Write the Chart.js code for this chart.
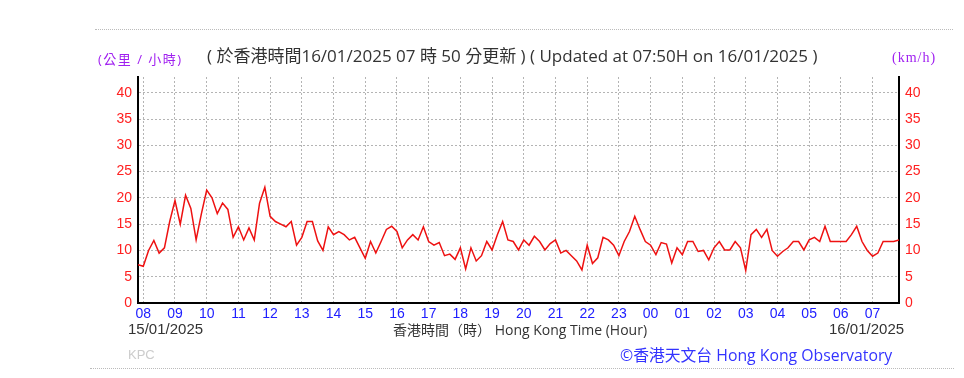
<!DOCTYPE html>
<html lang="zh-Hant">
<head>
  <meta charset="UTF-8" />
  <title>風速</title>
  <script src="https://cdn.jsdelivr.net/npm/chart.js"></script>
  <style>
    * { margin: 0; padding: 0; box-sizing: border-box; }
    body { background: #fff; width: 964px; height: 378px; position: relative; overflow: hidden; }
    canvas { position: absolute; left: 0; top: 0; }
    .txt { position: absolute; white-space: nowrap; }
    .cjk { font-family: 'Open Sans', 'Noto Sans CJK TC', sans-serif; }
    .sep { position: absolute; height: 0; border-top: 1px dotted #bbb; }
  </style>
</head>
<body>
  <canvas id="windChart" width="964" height="378"></canvas>

  <div class="sep" style="left:95px; top:29px; width:858px;"></div>
  <div class="sep" style="left:90px; top:368px; width:864px;"></div>

  <div class="txt cjk" style="left:98px; top:49px; font-size:13px; letter-spacing:1.5px; color:#a020f0;">(公里 / 小時)</div>
  <div class="txt cjk" style="left:207px; top:42px; font-size:17px; color:#333;">( 於香港時間16/01/2025 07 時 50 分更新 ) ( Updated at 07:50H on 16/01/2025 )</div>
  <div class="txt" style="left:892px; top:50px; font-size:14px; letter-spacing:1px; color:#a020f0; font-family:'Liberation Serif', serif;">(km/h)</div>

  <div class="txt" style="left:128px; top:320px; font-size:15px; color:#333; font-family:'Liberation Sans', sans-serif;">15/01/2025</div>
  <div class="txt cjk" style="left:393px; top:319px; font-size:14px; color:#333;">香港時間（時） Hong Kong Time (Hour)</div>
  <div class="txt" style="left:829px; top:320px; font-size:15px; color:#333; font-family:'Liberation Sans', sans-serif;">16/01/2025</div>
  <div class="txt" style="left:128px; top:347px; font-size:13px; color:#ccc; font-family:'Liberation Sans', sans-serif;">KPC</div>
  <div class="txt cjk" style="left:620px; top:343px; font-size:15.8px; color:#3333ff;">©香港天文台 Hong Kong Observatory</div>

  <script>
    // 10 分鐘平均風速 (km/h)，由 15/01 07:50 至 16/01 07:50，每 10 分鐘一點
    const startHour = 7 + 50 / 60;
    const stepHours = 10 / 60;
    const speeds = [
      7.3, 7, 10, 11.9, 9.5, 10.5, 15.5,          // 07:50 - 08:50
      19.5, 15, 20.5, 18, 12, 17,                 // 09
      21.5, 20, 17, 19, 17.8, 12.5,               // 10
      14.5, 12, 14.3, 12, 19, 22,                 // 11
      16.5, 15.5, 15, 14.5, 15.5, 11,             // 12
      12.5, 15.5, 15.5, 11.8, 10, 14.5,           // 13
      13, 13.6, 13, 12, 12.5, 10.5,               // 14
      8.5, 11.7, 9.5, 11.7, 14, 14.6,             // 15
      13.6, 10.5, 12, 13, 12, 14.5,               // 16
      11.7, 11, 11.5, 9, 9.3, 8.3,                // 17
      10.5, 6.5, 10.5, 8, 9, 11.7,                // 18
      10.1, 13, 15.5, 12, 11.7, 10.1,             // 19
      12, 11, 12.7, 11.7, 10.1, 11.3,             // 20
      12, 9.5, 10, 9, 8, 6.3,                     // 21
      11, 7.5, 8.6, 12.5, 12, 11,                 // 22
      9, 11.7, 13.6, 16.5, 14, 11.7,              // 23
      11, 9.2, 11.5, 11.2, 7.6, 10.5,             // 00
      9.2, 11.7, 11.7, 9.8, 10, 8.2,              // 01
      10.5, 11.7, 10.1, 10.1, 11.7, 10.5,         // 02
      6.2, 13, 14, 12.5, 14, 10,                  // 03
      8.9, 9.8, 10.5, 11.7, 11.7, 10.1,           // 04
      12, 12.5, 11.7, 14.6, 11.7, 11.7,           // 05
      11.7, 11.7, 13, 14.6, 11.7, 10,             // 06
      8.9, 9.5, 11.7, 11.7, 11.7, 12              // 07
    ];
    const hourTicks = [8, 9, 10, 11, 12, 13, 14, 15, 16, 17, 18, 19, 20, 21, 22, 23, 24, 25, 26, 27, 28, 29, 30, 31];
    const speedTicks = [0, 5, 10, 15, 20, 25, 30, 35, 40];

    const points = speeds.map((v, i) => ({ x: startHour + i * stepHours, y: v }));

    const gridDotted = { color: '#b4b4b4', lineWidth: 1, borderDash: [2, 2], drawTicks: false };
    const tickFont = { family: "'Liberation Sans', Arial, sans-serif", size: 14 };

    function yAxis(position, width) {
      return {
        type: 'linear',
        position: position,
        min: 0,
        max: 43,
        afterBuildTicks: s => { s.ticks = speedTicks.map(v => ({ value: v })); },
        afterFit: s => { s.width = width; },
        ticks: { color: '#ff2020', font: tickFont, padding: 6 },
        grid: position === 'left' ? gridDotted : { display: false, drawTicks: false },
        border: { color: '#000', width: 2, dash: [2, 2] }
      };
    }

    const ctx = document.getElementById('windChart').getContext('2d');
    const chart = new Chart(ctx, {
      type: 'line',
      data: {
        datasets: [{
          data: points,
          borderColor: '#ee1111',
          borderWidth: 1.5,
          pointRadius: 0,
          tension: 0,
          fill: false,
          yAxisID: 'y'
        }]
      },
      options: {
        responsive: false,
        animation: false,
        layout: { padding: { left: 98, right: 20, top: 77, bottom: 50 } },
        plugins: { legend: { display: false }, tooltip: { enabled: false } },
        scales: {
          x: {
            type: 'linear',
            min: startHour,
            max: startHour + 24,
            afterBuildTicks: s => { s.ticks = hourTicks.map(v => ({ value: v })); },
            afterFit: s => { s.height = 25; },
            ticks: {
              color: '#2020ff',
              font: tickFont,
              padding: 3,
              maxRotation: 0,
              autoSkip: false,
              callback: v => String(v % 24).padStart(2, '0')
            },
            grid: gridDotted,
            border: { color: '#000', width: 2, dash: [2, 2] }
          },
          y: yAxis('left', 40),
          y2: yAxis('right', 45)
        }
      }
    });
  </script>
</body>
</html>
